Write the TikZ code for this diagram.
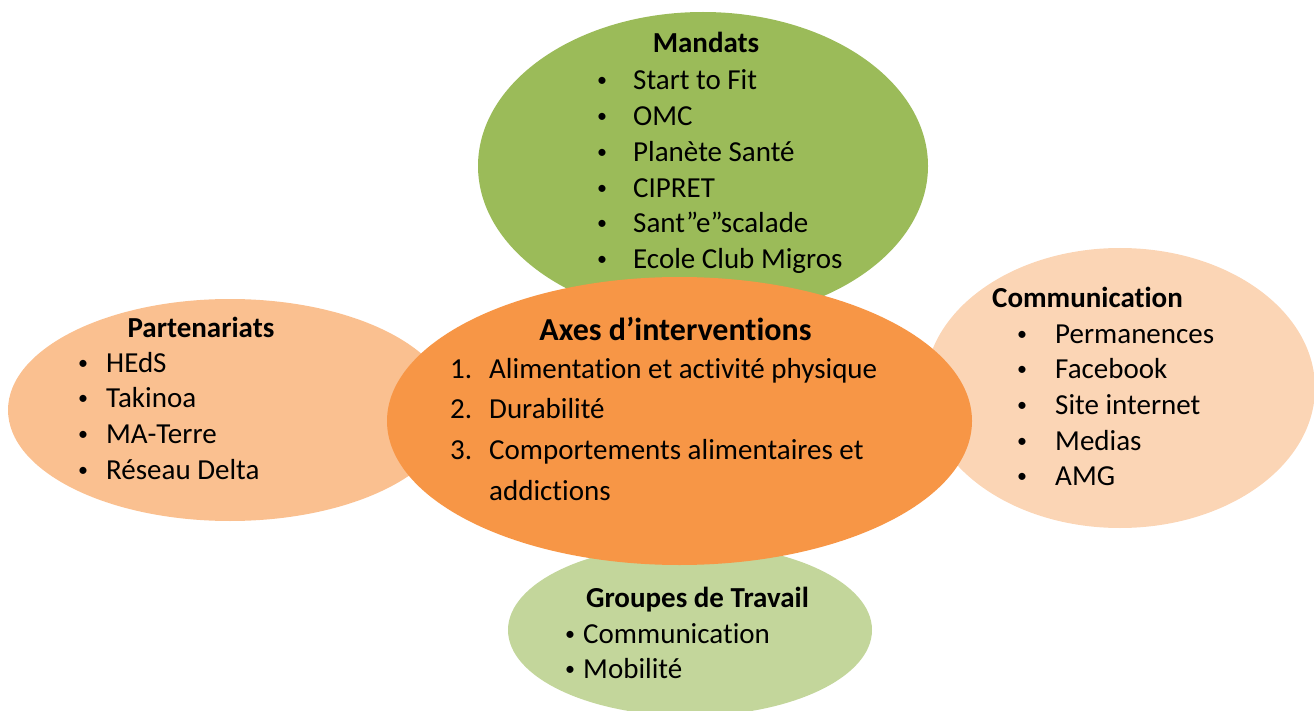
\documentclass[tikz,border=0pt]{standalone}
\usepackage{fontspec}
\setmainfont[Ligatures=NoCommon]{Carlito}
\usetikzlibrary{shapes.geometric,positioning}

\definecolor{mandgreen}{HTML}{9BBB59}
\definecolor{axesorange}{HTML}{F79646}
\definecolor{partpeach}{HTML}{FAC090}
\definecolor{compeach}{HTML}{FBD5B5}
\definecolor{grpgreen}{HTML}{C3D69B}

% small list bullet
\newcommand{\blt}{\raisebox{3pt}{\fontsize{20}{20}\selectfont •}}

\begin{document}
\begin{tikzpicture}[
x=1pt,y=-1pt,
blob/.style={
  ellipse,
  draw=none,
  inner sep=0pt
},
head/.style={
  anchor=base,
  inner sep=0pt,
  font=\fontsize{29}{35}\selectfont\bfseries
},
items/.style={
  anchor=base west,
  inner sep=0pt,
  font=\fontsize{29}{35.7}\selectfont
}
]
\useasboundingbox (0,0) rectangle (1314,711);

% ellipses, back to front
\node[blob,fill=mandgreen,minimum width=450pt,minimum height=308pt]
  (mandats) at (703,166) {};
\node[blob,fill=partpeach,minimum width=444pt,minimum height=222pt]
  (part) at (230,410) {};
\node[blob,fill=compeach,minimum width=390pt,minimum height=280pt]
  (comm) at (1120,388) {};
\node[blob,fill=grpgreen,minimum width=364pt,minimum height=172pt]
  (groupes) at (690,630) {};
\node[blob,fill=axesorange,minimum width=585pt,minimum height=288pt]
  (axes) at (679.5,421) {};

% Mandats
\node[head] (mandats-title) at (706,53) {Mandats};
\node[items] (mandats-list) at (597,90) {%
  \begin{tabular}[t]{@{}p{36pt}@{}l@{}}
  \blt & Start to Fit\\
  \blt & OMC\\
  \blt & Planète Santé\\
  \blt & CIPRET\\
  \blt & Sant”e”scalade\\
  \blt & Ecole Club Migros
  \end{tabular}};

% Partenariats
\node[head] (part-title) at (201,337) {Partenariats};
\node[items] (part-list) at (78,372) {%
  \begin{tabular}[t]{@{}p{28pt}@{}l@{}}
  \blt & HEdS\\
  \blt & Takinoa\\
  \blt & MA-Terre\\
  \blt & Réseau Delta
  \end{tabular}};

% Communication
\node[head] (comm-title) at (1087.5,307) {Communication};
\node[items] (comm-list) at (1017,343) {%
  \begin{tabular}[t]{@{}p{38pt}@{}l@{}}
  \blt & Permanences\\
  \blt & Facebook\\
  \blt & Site internet\\
  \blt & Medias\\
  \blt & AMG
  \end{tabular}};

% Groupes de Travail
\node[head] (grp-title) at (697.5,607) {Groupes de Travail};
\node[items,font=\fontsize{29}{35}\selectfont] (grp-list) at (565,643) {%
  \begin{tabular}[t]{@{}p{18pt}@{}l@{}}
  \blt & Communication\\
  \blt & Mobilité
  \end{tabular}};

% Axes d'interventions
\node[head,font=\fontsize{32}{38}\selectfont\bfseries]
  (axes-title) at (675.5,340) {Axes d’interventions};
\node[items,font=\fontsize{29}{40.7}\selectfont] (axes-list) at (450,378) {%
  \begin{tabular}[t]{@{}p{39pt}@{}l@{}}
  1. & Alimentation et activité physique\\
  2. & Durabilité\\
  3. & Comportements alimentaires et\\
     & addictions
  \end{tabular}};
\end{tikzpicture}
\end{document}
